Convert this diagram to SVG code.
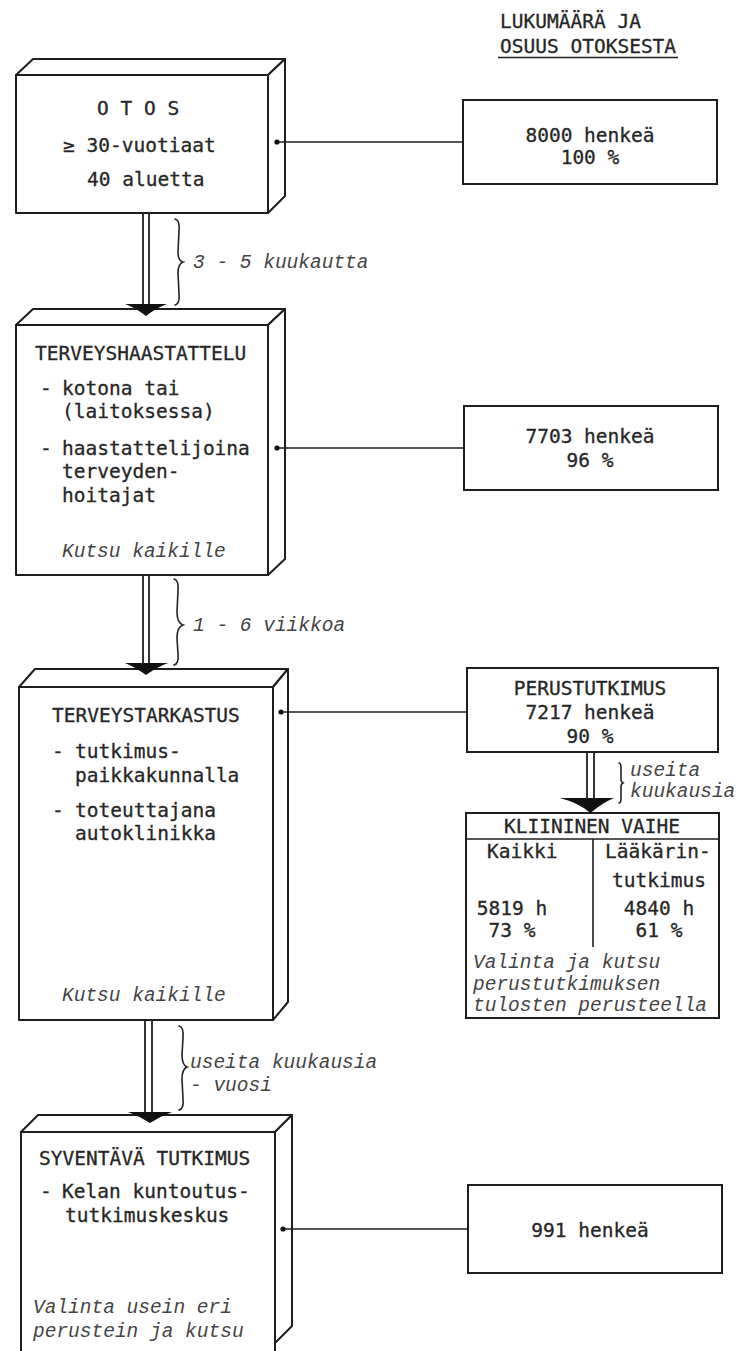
<svg xmlns="http://www.w3.org/2000/svg" width="739" height="1351" viewBox="0 0 739 1351">
<style>
.box{fill:#fff;stroke:#1e1e1e;stroke-width:2;stroke-linejoin:round}
.rbox{fill:#fff;stroke:#1e1e1e;stroke-width:2}
.ln{fill:none;stroke:#1e1e1e;stroke-width:1.6}
.shaft{fill:none;stroke:#1e1e1e;stroke-width:1.8}
.brace{fill:none;stroke:#222;stroke-width:1.6;stroke-linecap:round}
.head{fill:#111;stroke:none}
.dot{fill:#111}
.t{font-family:"DejaVu Sans Mono","Liberation Mono",monospace;font-size:19.5px;fill:#262626;stroke:#262626;stroke-width:0.3}
.m{text-anchor:middle}
.i{font-family:"Liberation Mono","DejaVu Sans Mono",monospace;font-style:italic;font-size:19.5px;fill:#444}
</style>
<rect width="739" height="1351" fill="#fff"/>

<g id="header">
<text class="t" x="500" y="28">LUKUMÄÄRÄ JA</text>
<text class="t" x="500" y="53">OSUUS OTOKSESTA</text>
<line class="ln" x1="498" y1="57.5" x2="678" y2="57.5"/>
</g>

<g id="otos">
<polygon class="box" points="16,75 33,59 285,59 268,75"/>
<polygon class="box" points="268,75 285,59 285,196 268,213"/>
<rect class="box" x="16" y="75" width="252" height="138"/>
<text class="t" x="97" y="115">O T O S</text>
<text class="t" x="63" y="152">≥ 30-vuotiaat</text>
<text class="t" x="87" y="186">40 aluetta</text>
</g>

<g id="haastattelu">
<polygon class="box" points="16,325 33,309 285,309 268,325"/>
<polygon class="box" points="268,325 285,309 285,559 268,575"/>
<rect class="box" x="16" y="325" width="252" height="250"/>
<text class="t" x="35" y="360">TERVEYSHAASTATTELU</text>
<text class="t" x="40" y="395">-</text>
<text class="t" x="62" y="395">kotona tai</text>
<text class="t" x="62" y="418">(laitoksessa)</text>
<text class="t" x="40" y="455">-</text>
<text class="t" x="62" y="455">haastattelijoina</text>
<text class="t" x="62" y="478">terveyden-</text>
<text class="t" x="62" y="502">hoitajat</text>
<text class="i" x="62" y="557">Kutsu kaikille</text>
</g>

<g id="tarkastus">
<polygon class="box" points="19,687 35,669 288,669 273,687"/>
<polygon class="box" points="273,687 288,669 288,1002 273,1020"/>
<rect class="box" x="19" y="687" width="254" height="333"/>
<text class="t" x="52" y="722">TERVEYSTARKASTUS</text>
<text class="t" x="52" y="758">-</text>
<text class="t" x="75" y="758">tutkimus-</text>
<text class="t" x="75" y="782">paikkakunnalla</text>
<text class="t" x="52" y="817">-</text>
<text class="t" x="75" y="817">toteuttajana</text>
<text class="t" x="75" y="840">autoklinikka</text>
<text class="i" x="62" y="1001">Kutsu kaikille</text>
</g>

<g id="syventava">
<polygon class="box" points="21,1132 38,1115 292,1115 275,1132"/>
<polygon class="box" points="275,1132 292,1115 292,1326 275,1343"/>
<rect class="box" x="21" y="1132" width="254" height="240"/>
<text class="t" x="39" y="1165">SYVENTÄVÄ TUTKIMUS</text>
<text class="t" x="40" y="1198">-</text>
<text class="t" x="62" y="1198">Kelan kuntoutus-</text>
<text class="t" x="65" y="1222">tutkimuskeskus</text>
<text class="i" x="33" y="1313">Valinta usein eri</text>
<text class="i" x="33" y="1337">perustein ja kutsu</text>
</g>

<g id="n8000">
<rect class="rbox" x="463" y="100" width="254" height="84"/>
<text class="t m" x="590" y="142">8000 henkeä</text>
<text class="t m" x="590" y="164">100 %</text>
</g>

<g id="n7703">
<rect class="rbox" x="464" y="406" width="254" height="84"/>
<text class="t m" x="590" y="443">7703 henkeä</text>
<text class="t m" x="590" y="467">96 %</text>
</g>

<g id="perustutkimus">
<rect class="rbox" x="467" y="668" width="251" height="84"/>
<text class="t m" x="590" y="695">PERUSTUTKIMUS</text>
<text class="t m" x="590" y="719">7217 henkeä</text>
<text class="t m" x="590" y="743">90 %</text>
</g>

<g id="kliininen">
<rect class="rbox" x="466" y="813" width="253" height="205"/>
<line class="ln" x1="466" y1="839" x2="719" y2="839"/>
<line class="ln" x1="593" y1="839" x2="593" y2="947"/>
<text class="t m" x="592" y="833">KLIININEN VAIHE</text>
<text class="t" x="487" y="858">Kaikki</text>
<text class="t" x="605" y="858">Lääkärin-</text>
<text class="t m" x="659" y="887">tutkimus</text>
<text class="t m" x="512" y="915">5819 h</text>
<text class="t m" x="659" y="915">4840 h</text>
<text class="t m" x="512" y="937">73 %</text>
<text class="t m" x="659" y="937">61 %</text>
<text class="i" x="473" y="968">Valinta ja kutsu</text>
<text class="i" x="473" y="990">perustutkimuksen</text>
<text class="i" x="473" y="1011">tulosten perusteella</text>
</g>

<g id="n991">
<rect class="rbox" x="468" y="1185" width="254" height="88"/>
<text class="t m" x="590" y="1237">991 henkeä</text>
</g>

<g id="connectors">
<line class="ln" x1="277" y1="142" x2="463" y2="142"/>
<circle class="dot" cx="277" cy="142" r="2.6"/>
<line class="ln" x1="277" y1="448" x2="464" y2="448"/>
<circle class="dot" cx="277" cy="448" r="2.6"/>
<line class="ln" x1="281" y1="712" x2="467" y2="712"/>
<circle class="dot" cx="281" cy="712" r="2.6"/>
<line class="ln" x1="283" y1="1229" x2="468" y2="1229"/>
<circle class="dot" cx="283" cy="1229" r="2.6"/>

<g id="arrow1">
<line class="shaft" x1="143" y1="214" x2="143" y2="305"/>
<line class="shaft" x1="149" y1="214" x2="149" y2="305"/>
<path class="head" d="M125,304 L167,304 Q156,308 146,316 Q136,308 125,304 Z"/>
<path class="brace" d="M175,219 Q180,220 179,231 L178,252 Q178,261 183,262 Q178,264 178,273 L179,294 Q180,304 175,305"/>
<text class="i" x="193" y="268">3 - 5 kuukautta</text>
</g>
<g id="arrow2">
<line class="shaft" x1="143" y1="576" x2="143" y2="664"/>
<line class="shaft" x1="149" y1="576" x2="149" y2="664"/>
<path class="head" d="M125,663 L168,663 Q157,667 146,675 Q135,667 125,663 Z"/>
<path class="brace" d="M174,579 Q179,580 178,591 L177,612 Q177,623 183,625 Q177,627 177,638 L178,654 Q179,664 174,665"/>
<text class="i" x="193" y="631">1 - 6 viikkoa</text>
</g>
<g id="arrow3">
<line class="shaft" x1="145" y1="1021" x2="145" y2="1113"/>
<line class="shaft" x1="152" y1="1021" x2="152" y2="1113"/>
<path class="head" d="M128,1112 L172,1112 Q161,1116 150,1123 Q139,1116 128,1112 Z"/>
<path class="brace" d="M179,1026 Q184,1027 183,1038 L182,1055 Q182,1065 187,1067 Q182,1069 182,1079 L183,1099 Q184,1109 179,1110"/>
<text class="i" x="190" y="1068">useita kuukausia</text>
<text class="i" x="190" y="1091">- vuosi</text>
</g>
<g id="arrow4">
<line class="shaft" x1="587" y1="753" x2="587" y2="799"/>
<line class="shaft" x1="594" y1="753" x2="594" y2="799"/>
<path class="head" d="M560,798 L614,798 Q602,803 590.5,813 Q579,803 560,798 Z"/>
<path class="brace" d="M619,763 Q621,763 621,768 L621,780 Q621,782 623,783 Q621,784 621,786 L621,798 Q621,803 619,803"/>
<text class="i" x="630" y="776">useita</text>
<text class="i" x="630" y="797">kuukausia</text>
</g>
</g>
</svg>
